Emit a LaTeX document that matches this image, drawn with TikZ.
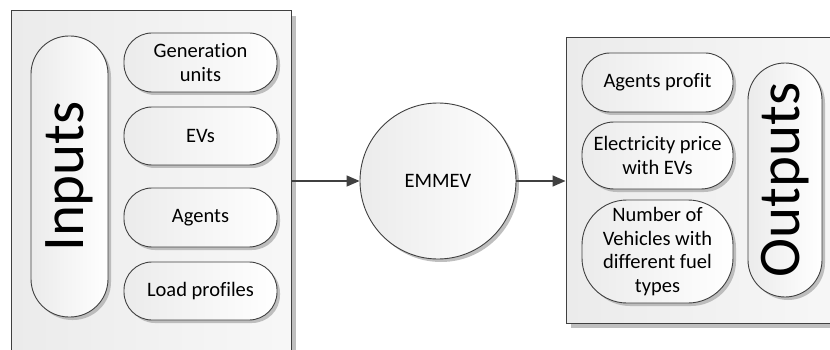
\documentclass[tikz,border=0pt]{standalone}
\usepackage{fontspec}
\setmainfont[Ligatures={NoCommon}]{Carlito}
\usetikzlibrary{shadows,arrows.meta,calc}
\definecolor{edge}{HTML}{404040}
\definecolor{shade}{HTML}{EBEBEB}
\definecolor{shadowc}{HTML}{B0B0B0}
\tikzset{
  panel/.style={draw=edge, line width=1pt, left color=shade, right color=white!97!black,
    drop shadow={shadow xshift=5pt, shadow yshift=-5pt, fill=shadowc, opacity=0.8}, inner sep=0pt},
  pill/.style={draw=edge, line width=0.9pt, left color=shade, right color=white,
    drop shadow={shadow xshift=3pt, shadow yshift=-3pt, fill=shadowc, opacity=0.8},
    inner sep=0pt, align=center, font=\fontsize{20.5}{23.5}\selectfont},
  bigpill/.style={pill},
  bigtext/.style={rotate=90, font=\fontsize{59}{62}\selectfont},
  core/.style={circle, draw=edge, line width=0.9pt, left color=shade, right color=white,
    drop shadow={shadow xshift=3pt, shadow yshift=-3pt, fill=shadowc, opacity=0.8},
    minimum size=156pt, inner sep=0pt, font=\fontsize{20.5}{23.5}\selectfont},
  flow/.style={draw=edge, line width=1.4pt, -{Triangle[length=13pt,width=11pt]}}
}
\begin{document}
\begin{tikzpicture}[x=1pt,y=-1pt]
\clip (0,0) rectangle (830,350);
\fill[white] (0,0) rectangle (830,350);
% panels
\node[panel, minimum width=280pt, minimum height=344pt] (inbox) at (151,183) {};
\node[panel, minimum width=284pt, minimum height=285pt] (outbox) at (708,180.5) {};
% inputs
\node[bigpill, minimum width=77pt, minimum height=281pt, rounded corners=38pt] (inputs) at (69.5,176.5) {};
\node[bigtext] (inputstext) at (inputs.center) {Inputs};
\node[pill, minimum width=153pt, minimum height=59pt, rounded corners=28pt] (gen) at (200.5,62.5) {Generation\\units};
\node[pill, minimum width=153pt, minimum height=58pt, rounded corners=28pt] (evs) at (200.5,136) {EVs};
\node[pill, minimum width=153pt, minimum height=59pt, rounded corners=28pt] (agents) at (200.5,217.5) {Agents};
\node[pill, minimum width=153pt, minimum height=58pt, rounded corners=28pt] (load) at (200.5,291) {Load profiles};
% core
\node[core] (emmev) at (438,181) {EMMEV};
% outputs
\node[pill, minimum width=151pt, minimum height=59pt, rounded corners=28pt] (profit) at (657.5,82.5) {Agents profit};
\node[pill, minimum width=151pt, minimum height=67pt, rounded corners=32pt] (price) at (657.5,155.5) {Electricity price\\with EVs};
\node[pill, minimum width=151pt, minimum height=103pt, rounded corners=45pt] (number) at (657.5,251.5) {Number of\\Vehicles with\\different fuel\\types};
\node[bigpill, minimum width=74pt, minimum height=234pt, rounded corners=37pt] (outputs) at (785,180) {};
\node[bigtext] (outputstext) at (outputs.center) {Outputs};
% connectors
\draw[flow] (emmev.west -| inbox.east) -- (emmev.west);
\draw[flow] (emmev.east) -- (emmev.east -| outbox.west);
\end{tikzpicture}
\end{document}
